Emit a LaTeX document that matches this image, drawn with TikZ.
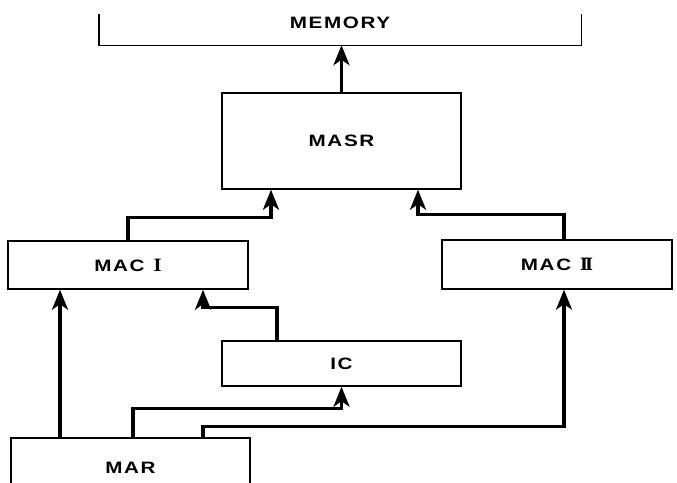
\documentclass[tikz,border=0pt]{standalone}
\usepackage{fontspec}
\setmainfont{Liberation Sans}[FakeStretch=1.25,LetterSpace=10,BoldFont={Liberation Sans Bold}]
\newfontfamily\romanfont{DejaVu Serif}[BoldFont={DejaVu Serif Bold}]
\usetikzlibrary{arrows.meta,calc}
\begin{document}
\begin{tikzpicture}[x=1pt,y=-1pt,
  lbl/.style={font=\bfseries\fontsize{16.5}{18}\selectfont},
  box/.style={draw,line width=1.4pt,inner sep=0pt,lbl},
  rnum/.style={font=\romanfont\bfseries\fontsize{17}{17}\selectfont},
  conn/.style={line width=3.4pt,-{Stealth[length=20pt,width=16pt,inset=5.5pt]}}]
\useasboundingbox (0,0) rectangle (677,482);
\begin{scope}
\clip (0,0) rectangle (677,482);
% memory bracket
\node[inner sep=0pt,minimum width=482pt,minimum height=31pt] (mem) at (340,29.5) {};
\node[lbl] (memt) at (340,23) {MEMORY};
\draw[line width=1.4pt] (mem.north west) |- (mem.south east) -- (mem.north east);
% boxes
\node[box,minimum width=239pt,minimum height=96pt] (masr) at (341.5,141) {MASR};
\node[box,minimum width=240pt,minimum height=48pt] (mac1) at (128,265) {MAC\hspace{9pt}{\romanfont\bfseries\fontsize{17}{17}\selectfont I}};
\node[box,minimum width=230pt,minimum height=49pt] (mac2) at (557,264.5) {MAC\hspace{9pt}{\romanfont\bfseries\fontsize{17}{17}\selectfont I\kern-3pt I}};
\node[box,minimum width=239pt,minimum height=45pt] (ic) at (341.5,363.5) {IC};
\node[box,minimum width=239pt,minimum height=60pt] (mar) at (130.5,468) {MAR};
% connectors
\draw[conn] (masr.north) -- (masr.north |- mem.south);
\draw[conn] (mac1.north) -- ++(0,-23) -| ([xshift=-70.5pt]masr.south);
\draw[conn] ([xshift=7pt]mac2.north) -- ++(0,-25) -| ([xshift=76.5pt]masr.south);
\draw[conn] ([xshift=-64.5pt]ic.north) -- ++(0,-33) -| ([xshift=75pt]mac1.south);
\draw[conn] ([xshift=-70.5pt]mar.north) -- ([xshift=-70.5pt]mar.north |- mac1.south);
\draw[conn] ([xshift=2.5pt]mar.north) -- ++(0,-29) -| (ic.south);
\draw[conn] ([xshift=72.5pt]mar.north) -- ++(0,-11) -| ([xshift=7pt]mac2.south);
\end{scope}
\end{tikzpicture}
\end{document}
